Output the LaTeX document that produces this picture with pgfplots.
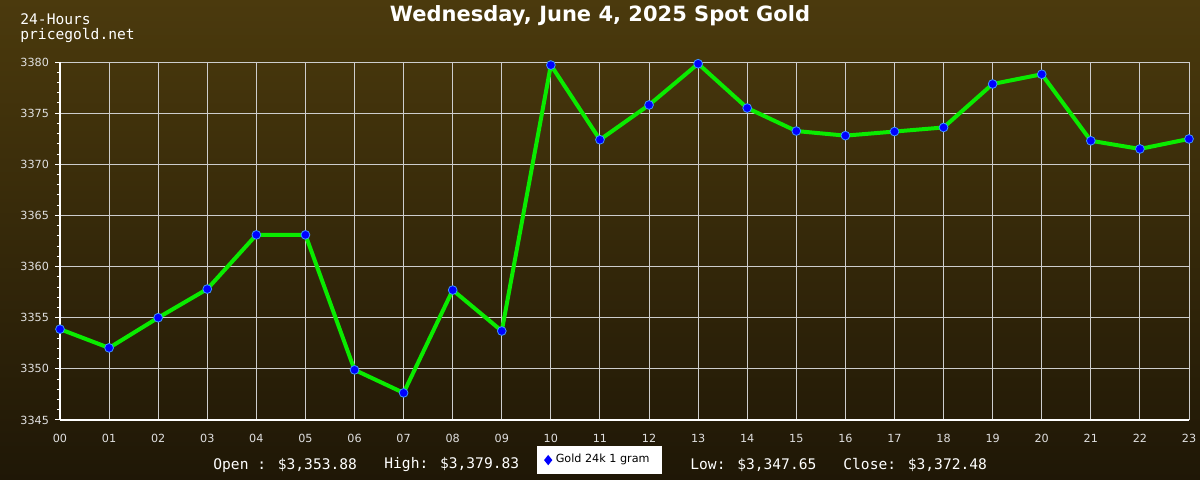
\documentclass[border=0pt]{standalone}
\usepackage{pgfplots}
\pgfplotsset{compat=1.18}
\usepackage{fontspec}
\setmainfont{DejaVu Sans}
\newfontfamily\mono{DejaVu Sans Mono}
\definecolor{bgtop}{RGB}{75,58,13}
\definecolor{bgbot}{RGB}{31,23,6}
\definecolor{gridc}{RGB}{205,205,205}
\definecolor{linec}{RGB}{10,235,0}
\definecolor{mkedge}{RGB}{60,150,255}
\begin{document}
\begin{tikzpicture}
\useasboundingbox (0pt,0pt) rectangle (600pt,240pt);
\clip (0pt,0pt) rectangle (600pt,240pt);
\shade[top color=bgtop, bottom color=bgbot] (0pt,0pt) rectangle (600pt,240pt);
\begin{axis}[
  at={(30pt,30pt)}, anchor=south west,
  scale only axis, width=564.5pt, height=179pt,
  xmin=0, xmax=23, ymin=3345, ymax=3380,
  clip=false,
  axis x line=bottom, axis y line=left,
  axis line style={white, line width=0.6pt, -},
  xtick={0,...,23},
  xticklabels={00,01,02,03,04,05,06,07,08,09,10,11,12,13,14,15,16,17,18,19,20,21,22,23},
  ytick={3345,3350,...,3380},
  minor y tick num=4,
  major x tick style={draw=none},
  y tick style={white, line width=0.5pt},
  major tick length=2.5pt, minor tick length=1.5pt,
  tick align=outside,
  grid=major, grid style={gridc, line width=0.5pt},
  minor grid style={draw=none},
  ticklabel style={font=\fontsize{5.6}{6}\selectfont, text=white!88!black},
  /pgf/number format/1000 sep={},
  /pgf/number format/assume math mode=true,
  xticklabel style={yshift=-1pt},
  yticklabel style={xshift=0.5pt},
  legend style={at={(0.4775,-0.112)}, anchor=center, fill=white, draw=none,
    font=\fontsize{5.6}{6}\selectfont, text=black, inner xsep=4pt, inner ysep=1.5pt,
    minimum height=11pt},
  legend image code/.code={\fill[blue] (0.4em,1pt)--(0.4em+0.8pt,0)--(0.4em,-1pt)--(0.4em-0.8pt,0)--cycle;},
]
\addplot[linec, line width=2pt, mark=*, mark size=2.2pt,
  mark options={fill=blue, draw=mkedge, line width=0.4pt, solid}]
  coordinates {
  (0,3353.88) (1,3352.05) (2,3355.0) (3,3357.8) (4,3363.1) (5,3363.1)
  (6,3349.9) (7,3347.65) (8,3357.7) (9,3353.7) (10,3379.7) (11,3372.4)
  (12,3375.8) (13,3379.83) (14,3375.5) (15,3373.25) (16,3372.8) (17,3373.2)
  (18,3373.6) (19,3377.85) (20,3378.8) (21,3372.3) (22,3371.5) (23,3372.48)
  };
\addlegendentry{Gold 24k 1 gram}
\end{axis}
\node[text=white, font=\fontsize{10.5}{12}\bfseries] at (300pt,232pt) {Wednesday, June 4, 2025 Spot Gold};
\node[text=white, font=\mono\fontsize{7.3}{8}\selectfont, anchor=west, inner sep=0pt] at (10pt,230.5pt) {24-Hours};
\node[text=white, font=\mono\fontsize{7.3}{8}\selectfont, anchor=west, inner sep=0pt] at (10pt,222.5pt) {pricegold.net};
\node[text=white, font=\mono\fontsize{7.3}{8}\selectfont, anchor=west, inner sep=0pt] at (106.5pt,7.5pt) {Open : \$3,353.88};
\node[text=white, font=\mono\fontsize{7.3}{8}\selectfont, anchor=west, inner sep=0pt] at (192pt,7.5pt) {High: \$3,379.83};
\node[text=white, font=\mono\fontsize{7.3}{8}\selectfont, anchor=west, inner sep=0pt] at (345pt,7.5pt) {Low: \$3,347.65};
\node[text=white, font=\mono\fontsize{7.3}{8}\selectfont, anchor=west, inner sep=0pt] at (421.5pt,7.5pt) {Close: \$3,372.48};
\end{tikzpicture}
\end{document}
